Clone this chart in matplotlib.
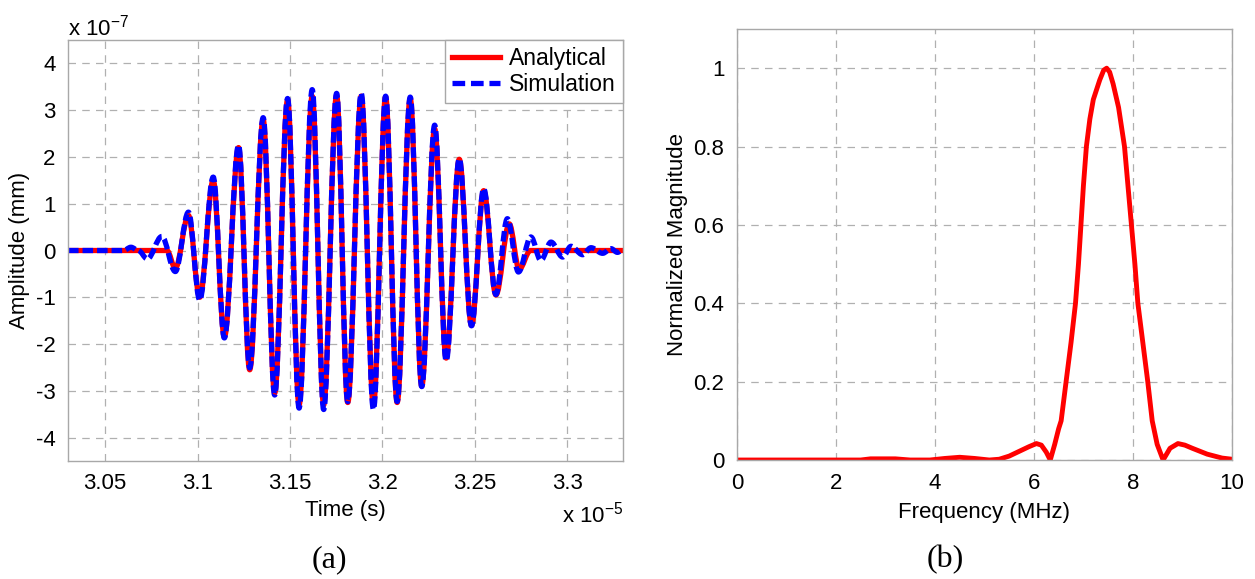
import matplotlib
matplotlib.use("Agg")
import matplotlib.pyplot as plt
from matplotlib.path import Path
import matplotlib.patches as patches
from matplotlib.lines import Line2D

plt.rcParams['font.family'] = ['Liberation Sans', 'DejaVu Sans']

# (a) time signal extrema, time in units of 1e-5 s, amplitude in units of 1e-7 mm
sim_t = [3.030, 3.060, 3.0640, 3.0680, 3.0729, 3.0807, 3.0880, 3.0951, 3.1012, 3.1085,
         3.1145, 3.1222, 3.1282, 3.1355, 3.1417, 3.1487, 3.1549, 3.1620, 3.1682, 3.1752,
         3.1812, 3.1885, 3.1951, 3.2017, 3.2079, 3.2150, 3.2212, 3.2282, 3.2344, 3.2415,
         3.2481, 3.2547, 3.2613, 3.2675, 3.2735, 3.2802, 3.2856, 3.2911, 3.2974, 3.3019,
         3.3082, 3.3127, 3.3190, 3.3235, 3.3270, 3.3300]
sim_a = [0.0, 0.0, 0.07, 0.0, -0.18, 0.30, -0.45, 0.82, -1.06, 1.57,
         -1.87, 2.25, -2.51, 2.84, -3.09, 3.25, -3.37, 3.44, -3.40, 3.36,
         -3.23, 3.36, -3.40, 3.30, -3.23, 3.28, -2.91, 2.68, -2.36, 1.96,
         -1.61, 1.32, -0.94, 0.68, -0.46, 0.29, -0.21, 0.18, -0.14, 0.09,
         -0.09, 0.06, -0.06, 0.04, -0.04, 0.02]

ana_t = [3.030, 3.0835, 3.0880, 3.0951, 3.1012, 3.1085, 3.1145, 3.1222, 3.1282, 3.1355,
         3.1417, 3.1487, 3.1549, 3.1620, 3.1682, 3.1752, 3.1812, 3.1885, 3.1951, 3.2017,
         3.2079, 3.2150, 3.2212, 3.2282, 3.2344, 3.2415, 3.2481, 3.2547, 3.2613, 3.2685,
         3.2739, 3.2800, 3.3300]
ana_a = [0.0, 0.0, -0.38, 0.75, -1.0, 1.5, -1.85, 2.2, -2.55, 2.8,
         -3.05, 3.22, -3.3, 3.3, -3.3, 3.32, -3.25, 3.3, -3.3, 3.28,
         -3.25, 3.25, -2.9, 2.6, -2.3, 1.95, -1.6, 1.28, -0.95, 0.57,
         -0.4, 0.0, 0.0]

# (b) normalized spectrum
freq = [0.0, 2.5, 2.7, 3.2, 3.5, 3.9, 4.2, 4.5, 4.8, 5.1, 5.3, 5.5, 5.7, 5.9, 6.05,
        6.15, 6.25, 6.33, 6.42, 6.5, 6.55, 6.65, 6.75, 6.84, 6.9, 6.95, 7.0, 7.06, 7.13,
        7.2, 7.33, 7.41, 7.47, 7.53, 7.6, 7.71, 7.83, 7.9, 7.97, 8.04, 8.1, 8.2, 8.3, 8.39,
        8.49, 8.61, 8.75, 8.91, 9.05, 9.2, 9.5, 9.8, 10.0]
mag = [0.0, 0.0, 0.003, 0.003, 0.0, 0.0, 0.004, 0.007, 0.004, 0.0, 0.002, 0.01, 0.022, 0.034, 0.042,
       0.038, 0.02, 0.0, 0.04, 0.08, 0.1, 0.2, 0.3, 0.4, 0.5, 0.6, 0.7, 0.8, 0.87,
       0.92, 0.97, 0.995, 1.0, 0.99, 0.96, 0.9, 0.8, 0.7, 0.6, 0.5, 0.4, 0.3, 0.2, 0.1,
       0.04, 0.0, 0.03, 0.042, 0.038, 0.03, 0.015, 0.005, 0.002]

t_ticks = [3.05, 3.1, 3.15, 3.2, 3.25, 3.3]
t_labels = ['3.05', '3.1', '3.15', '3.2', '3.25', '3.3']
a_ticks = [-4, -3, -2, -1, 0, 1, 2, 3, 4]
f_ticks = [0, 2, 4, 6, 8, 10]
m_ticks = [0, 0.2, 0.4, 0.6, 0.8, 1.0]
m_labels = ['0', '0.2', '0.4', '0.6', '0.8', '1']

RED = '#ff0000'
BLUE = '#0000ff'
DASH = (0, (2.0, 0.75))


def wave_path(t, a):
    # smooth curve through the extrema, flat tangent at each one
    verts = [(t[0], a[0])]
    codes = [Path.MOVETO]
    for i in range(1, len(t)):
        dt = t[i] - t[i - 1]
        verts += [(t[i - 1] + 0.36 * dt, a[i - 1]), (t[i] - 0.36 * dt, a[i]), (t[i], a[i])]
        codes += [Path.CURVE4] * 3
    return Path(verts, codes)


def style(ax):
    for s in ax.spines.values():
        s.set_color('#a8a8a8')
        s.set_linewidth(1.0)
    ax.tick_params(length=0, labelsize=16, pad=9)
    ax.grid(True, color='#b0b0b0', linestyle=(0, (6, 5)), linewidth=0.9)
    ax.set_axisbelow(True)


fig = plt.figure(figsize=(12.55, 5.79), dpi=100)
ax1 = fig.add_axes([0.0542, 0.2038, 0.4422, 0.7271])
ax2 = fig.add_axes([0.5872, 0.2055, 0.3944, 0.7444])

# left panel
ax1.add_patch(patches.PathPatch(wave_path(ana_t, ana_a), facecolor='none', edgecolor=RED,
                                lw=3.8, joinstyle='round', capstyle='round'))
ax1.add_patch(patches.PathPatch(wave_path(sim_t, sim_a), facecolor='none', edgecolor=BLUE,
                                lw=3.8, linestyle=DASH, joinstyle='round', capstyle='butt'))
ax1.set_xlim(3.03, 3.33)
ax1.set_ylim(-4.5, 4.5)
ax1.set_xticks(t_ticks)
ax1.set_xticklabels(t_labels)
ax1.set_yticks(a_ticks)
ax1.set_yticklabels([str(v) for v in a_ticks])
style(ax1)
ax1.set_xlabel('Time (s)', fontsize=16, labelpad=4)
ax1.set_ylabel('Amplitude (mm)', fontsize=16, labelpad=4)
handles = [Line2D([], [], color=RED, lw=3.8),
           Line2D([], [], color=BLUE, lw=3.8, linestyle=(0, (2.4, 1.1)))]
leg = ax1.legend(handles, ['Analytical', 'Simulation'], loc='upper right', fontsize=16.5,
                 frameon=True, fancybox=False, framealpha=1, borderaxespad=0,
                 handlelength=2.1, handletextpad=0.4, borderpad=0.3, labelspacing=0.15)
leg.get_frame().set_edgecolor('#a8a8a8')
leg.get_frame().set_linewidth(1.0)
ax1.text(0.0, 1.0, r'x 10$^{\mathregular{-7}}$', transform=ax1.transAxes,
         fontsize=16, ha='left', va='bottom')
ax1.text(1.0, -0.097, r'x 10$^{\mathregular{-5}}$', transform=ax1.transAxes,
         fontsize=16, ha='right', va='top')

# right panel
ax2.plot(freq, mag, color=RED, lw=3.5, solid_joinstyle='round')
ax2.set_xlim(0, 10)
ax2.set_ylim(0, 1.1)
ax2.set_xticks(f_ticks)
ax2.set_yticks(m_ticks)
ax2.set_yticklabels(m_labels)
style(ax2)
ax2.set_xlabel('Frequency (MHz)', fontsize=16, labelpad=6)
ax2.set_ylabel('Normalized Magnitude', fontsize=16, labelpad=4)

fig.text(329 / 1255, 1 - 560 / 579, '(a)', fontsize=23, family='Liberation Serif',
         ha='center', va='center')
fig.text(945 / 1255, 1 - 560 / 579, '(b)', fontsize=23, family='Liberation Serif',
         ha='center', va='center')

fig.savefig('out.png', dpi=100)
